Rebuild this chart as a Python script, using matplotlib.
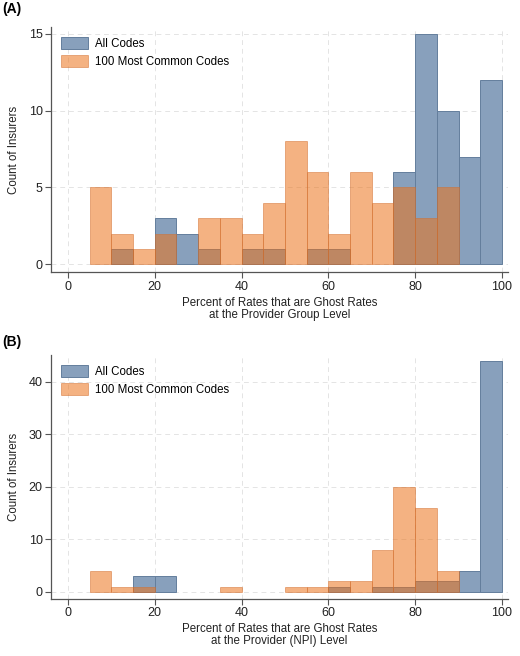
import numpy as np
import matplotlib
matplotlib.use('Agg')
import matplotlib.pyplot as plt

# Data: counts per 5-point bin (0-5, 5-10, ..., 95-100)
bin_edges = np.arange(0, 105, 5)
all_codes_a = [0, 0, 1, 0, 3, 2, 1, 0, 1, 1, 0, 1, 1, 0, 0, 6, 15, 10, 7, 12]
common_a    = [0, 5, 2, 1, 2, 0, 3, 3, 2, 4, 8, 6, 2, 6, 4, 5, 3, 5, 0, 0]
all_codes_b = [0, 0, 0, 3, 3, 0, 0, 0, 0, 0, 0, 0, 1, 0, 1, 1, 2, 2, 4, 44]
common_b    = [0, 4, 1, 1, 0, 0, 0, 1, 0, 0, 1, 1, 2, 2, 8, 20, 16, 4, 0, 0]

series_labels = ['All Codes', '100 Most Common Codes']
xlabels = ['Percent of Rates that are Ghost Rates\nat the Provider Group Level',
           'Percent of Rates that are Ghost Rates\nat the Provider (NPI) Level']
panel_tags = ['(A)', '(B)']
yticks = [[0, 5, 10, 15], [0, 10, 20, 30, 40]]
ylims = [(-0.52, 15.46), (-1.33, 45.1)]

plt.rcParams['font.family'] = ['Liberation Sans', 'DejaVu Sans']

blue = '#88a0bc'
blue_edge = '#647e9c'
orange = (235/255, 115/255, 27/255, 0.55)
orange_edge = (210/255, 110/255, 45/255, 0.5)
axis_col = '#555555'

fig = plt.figure(figsize=(5.2, 6.56), dpi=100)
boxes = [[0.098, 0.585, 0.879, 0.374], [0.098, 0.087, 0.879, 0.372]]


def draw_bars(ax, counts, **kw):
    # skip empty bins so no edge line is drawn along zero
    counts = np.asarray(counts)
    keep = counts > 0
    return ax.bar(bin_edges[:-1][keep], counts[keep], width=5, align='edge', **kw)


panels = [(all_codes_a, common_a), (all_codes_b, common_b)]
for i, (allc, com) in enumerate(panels):
    ax = fig.add_axes(boxes[i])
    draw_bars(ax, allc, color=blue, edgecolor=blue_edge, linewidth=0.7,
              label=series_labels[0], zorder=2)
    draw_bars(ax, com, color=orange, edgecolor=orange_edge, linewidth=0.7,
              label=series_labels[1], zorder=3)

    ax.set_xlim(-3.9, 101.4)
    ax.set_ylim(*ylims[i])
    ax.set_xticks([0, 20, 40, 60, 80, 100])
    ax.set_yticks(yticks[i])
    ax.grid(True, linestyle=(0, (5, 4)), color='#e4e4e4', linewidth=0.7, zorder=0)
    ax.set_axisbelow(True)

    for s in ['top', 'right']:
        ax.spines[s].set_visible(False)
    for s in ['left', 'bottom']:
        ax.spines[s].set_color(axis_col)
        ax.spines[s].set_linewidth(0.9)
    ax.tick_params(axis='both', colors=axis_col, labelcolor='#222222',
                   labelsize=9, length=4, width=0.8, direction='out', pad=2)

    ax.set_xlabel(xlabels[i], fontsize=8.3, color='#222222', labelpad=3, linespacing=1.0)
    ax.set_ylabel('Count of Insurers', fontsize=8.3, color='#222222', labelpad=6)

    ax.legend(loc='upper left', frameon=False, fontsize=8.3, handlelength=2.3,
              handleheight=1.2, borderaxespad=0.5, labelspacing=0.45,
              handletextpad=0.6, bbox_to_anchor=(0.0, 1.0))

fig.text(0.004, 0.986, panel_tags[0], fontsize=10, fontweight='bold', va='center')
fig.text(0.004, 0.478, panel_tags[1], fontsize=10, fontweight='bold', va='center')

fig.savefig('out.png', dpi=100)
